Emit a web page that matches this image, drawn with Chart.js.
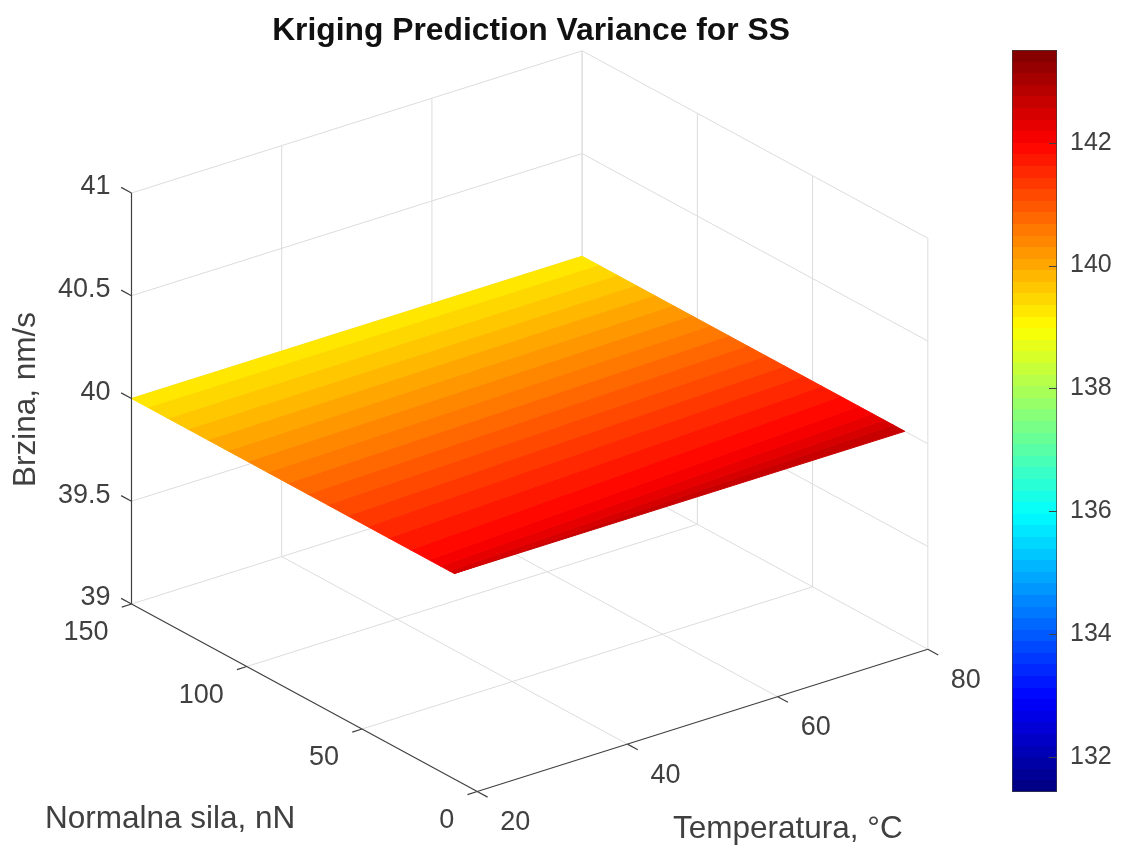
<!DOCTYPE html>
<html>
<head>
<meta charset="utf-8">
<title>Kriging Prediction Variance for SS</title>
<script src="https://cdn.jsdelivr.net/npm/chart.js@4"></script>
<style>
    html, body { margin: 0; padding: 0; background: #fff; }
    #plot { position: absolute; left: 0; top: 0; }
    #bar { position: absolute; left: 1000px; top: 0; }
</style>
</head>
<body>
<canvas id="plot" width="1062" height="846"></canvas>
<canvas id="bar" width="121" height="846"></canvas>
<script>
const tempTicks = [20, 40, 60, 80];
const forceTicks = [0, 50, 100, 150];
const speedTicks = [39, 39.5, 40, 40.5, 41];
const colorbarTicks = [132, 134, 136, 138, 140, 142];
const colorbarRange = [131.43, 143.51];

// Surface is flat at 40 nm/s and splits into colour bands; edges are read at both ends of the T range.
const surfaceSpeed = 40;
const surfaceTemp = [20, 80];
const bandEdgesAt20 = [150, 143, 134.3, 125.6, 117, 108.3, 99.6, 91, 82.3, 73.6, 65, 56.3, 47.6, 38.5, 29, 21, 16, 12, 10, 10];
const bandEdgesAt80 = [150, 143, 134.9, 126.8, 118.8, 110.7, 102.6, 94.5, 86.5, 78.4, 70.3, 62.2, 54.2, 46.1, 38, 30, 24, 19, 15, 10];
const bandVariance = [139.26, 139.45, 139.64, 139.83, 140.02, 140.2, 140.39, 140.58, 140.77, 140.96, 141.15, 141.34, 141.53, 141.71, 141.9, 142.09, 142.28, 142.47, 142.66];

const FONT = '"Liberation Sans", Arial, sans-serif';
const TEXT_COLOR = '#404040';
const GRID_COLOR = '#dcdcdc';
const AXIS_COLOR = '#404040';
const LEVELS = 64;

// Fixed orthographic view of the box, same as the camera of the original 3D axes.
function project(t, f, z) {
    return {
        x: 131.5 + (t - 20) * 7.51 + (150 - f) * 2.305,
        y: 604 - (t - 20) * 2.37 + (150 - f) * 1.25 - (z - 39) * 205.5
    };
}

function jet(t) {
    const c = v => Math.round(255 * Math.max(0, Math.min(1, v)));
    const r = c(Math.min(4 * t - 1.5, -4 * t + 4.5));
    const g = c(Math.min(4 * t - 0.5, -4 * t + 3.5));
    const b = c(Math.min(4 * t + 0.5, -4 * t + 2.5));
    return `rgb(${r},${g},${b})`;
}

function varianceColor(v) {
    const t = (v - colorbarRange[0]) / (colorbarRange[1] - colorbarRange[0]);
    const k = Math.min(LEVELS - 1, Math.floor(t * LEVELS));
    return jet((k + 0.5) / LEVELS);
}

function line(points, color, width, order) {
    return { data: points, showLine: true, pointRadius: 0, borderColor: color, borderWidth: width, order: order };
}

const datasets = [];
const tMin = tempTicks[0], tMax = tempTicks[3];
const fMin = forceTicks[0], fMax = forceTicks[3];
const zMin = speedTicks[0], zMax = speedTicks[4];

// Grid on the floor and the two back walls.
tempTicks.forEach(t => {
    if (t > tMin) datasets.push(line([project(t, fMin, zMin), project(t, fMax, zMin)], GRID_COLOR, 1, 3));
    datasets.push(line([project(t, fMax, zMin), project(t, fMax, zMax)], GRID_COLOR, 1, 3));
});
forceTicks.forEach(f => {
    if (f > fMin) datasets.push(line([project(tMin, f, zMin), project(tMax, f, zMin)], GRID_COLOR, 1, 3));
    datasets.push(line([project(tMax, f, zMin), project(tMax, f, zMax)], GRID_COLOR, 1, 3));
});
speedTicks.forEach(z => {
    if (z > zMin) {
        datasets.push(line([project(tMin, fMax, z), project(tMax, fMax, z)], GRID_COLOR, 1, 3));
        datasets.push(line([project(tMax, fMax, z), project(tMax, fMin, z)], GRID_COLOR, 1, 3));
    }
});

// Colour bands of the surface.
bandVariance.forEach((v, i) => {
    const color = varianceColor(v);
    const [t0, t1] = surfaceTemp;
    const pts = [
        project(t0, bandEdgesAt20[i], surfaceSpeed),
        project(t1, bandEdgesAt80[i], surfaceSpeed),
        project(t1, bandEdgesAt80[i + 1], surfaceSpeed),
        project(t0, bandEdgesAt20[i + 1], surfaceSpeed),
        project(t0, bandEdgesAt20[i], surfaceSpeed)
    ];
    datasets.push({
        data: pts, showLine: true, pointRadius: 0, fill: 'shape',
        backgroundColor: color, borderColor: color, borderWidth: 1, order: 2
    });
});

// Dark axes and their tick marks.
datasets.push(line([project(tMin, fMax, zMin), project(tMin, fMax, zMax)], AXIS_COLOR, 1.2, 1));
datasets.push(line([project(tMin, fMax, zMin), project(tMin, fMin, zMin)], AXIS_COLOR, 1.2, 1));
datasets.push(line([project(tMin, fMin, zMin), project(tMax, fMin, zMin)], AXIS_COLOR, 1.2, 1));
speedTicks.forEach(z => {
    datasets.push(line([project(tMin, fMax, z), project(tMin, fMax + 4.5, z)], AXIS_COLOR, 1.2, 1));
});
forceTicks.forEach(f => {
    datasets.push(line([project(tMin, f, zMin), project(tMin - 1.3, f, zMin)], AXIS_COLOR, 1.2, 1));
});
tempTicks.forEach(t => {
    datasets.push(line([project(t, fMin, zMin), project(t, fMin - 4.5, zMin)], AXIS_COLOR, 1.2, 1));
});

// Chart.js has no 3D axes so tick labels and axis titles are written here.
const axisText = {
    id: 'axisText',
    afterDraw(chart) {
        const { ctx, scales } = chart;
        const put = (text, p, dx, dy, align) => {
            ctx.textAlign = align;
            ctx.fillText(text, scales.x.getPixelForValue(p.x) + dx, scales.y.getPixelForValue(p.y) + dy);
        };
        ctx.save();
        ctx.fillStyle = TEXT_COLOR;
        ctx.font = '27px ' + FONT;
        ctx.textBaseline = 'middle';
        speedTicks.forEach(z => put(String(z), project(tMin, fMax, z), -21, -6, 'right'));
        forceTicks.forEach(f => put(String(f), project(tMin, f, zMin), -23, 29, 'right'));
        tempTicks.forEach(t => put(String(t), project(t, fMin, zMin), 38, 31, 'center'));
        ctx.font = '31.5px ' + FONT;
        ctx.textAlign = 'left';
        ctx.fillText('Normalna sila, nN', 45, 819);
        ctx.fillText('Temperatura, °C', 673, 829);
        ctx.translate(26, 399.5);
        ctx.rotate(-Math.PI / 2);
        ctx.textAlign = 'center';
        ctx.fillText('Brzina, nm/s', 0, 0);
        ctx.restore();
    }
};

new Chart(document.getElementById('plot').getContext('2d'), {
    type: 'scatter',
    data: { datasets: datasets },
    options: {
        responsive: false,
        animation: false,
        layout: { padding: 0 },
        plugins: {
            legend: { display: false },
            tooltip: { enabled: false },
            title: {
                display: true,
                text: 'Kriging Prediction Variance for SS',
                color: '#111111',
                font: { family: FONT, size: 31.8, weight: 'bold', lineHeight: 1 },
                padding: { top: 15, bottom: 3.2 }
            }
        },
        scales: {
            x: { type: 'linear', display: false, min: 0, max: 1062 },
            y: { type: 'linear', display: false, min: 50, max: 846, reverse: true }
        }
    },
    plugins: [axisText]
});

// Stepped jet gradient for the colorbar, built on the bar's own scale.
function colorbarFill(context) {
    const area = context.chart.chartArea;
    if (!area) return '#000';
    const g = context.chart.ctx.createLinearGradient(0, area.bottom, 0, area.top);
    for (let k = 0; k < LEVELS; k++) {
        const color = jet((k + 0.5) / LEVELS);
        g.addColorStop(k / LEVELS, color);
        g.addColorStop((k + 1) / LEVELS, color);
    }
    return g;
}

const insideTicks = {
    id: 'insideTicks',
    afterDatasetsDraw(chart) {
        const { ctx, chartArea, scales } = chart;
        ctx.save();
        ctx.strokeStyle = AXIS_COLOR;
        ctx.lineWidth = 1;
        scales.y.ticks.forEach(tick => {
            const y = Math.round(scales.y.getPixelForValue(tick.value)) + 0.5;
            ctx.beginPath();
            ctx.moveTo(chartArea.right - 8, y);
            ctx.lineTo(chartArea.right, y);
            ctx.stroke();
        });
        ctx.restore();
    }
};

new Chart(document.getElementById('bar').getContext('2d'), {
    type: 'bar',
    data: {
        labels: ['variance'],
        datasets: [{
            data: [colorbarRange],
            backgroundColor: colorbarFill,
            borderColor: '#3c3c3c',
            borderWidth: 1,
            borderSkipped: false,
            barPercentage: 1,
            categoryPercentage: 1
        }]
    },
    options: {
        responsive: false,
        animation: false,
        layout: { padding: { left: 12, top: 50, bottom: 54 } },
        plugins: { legend: { display: false }, tooltip: { enabled: false } },
        scales: {
            x: { display: false },
            y: {
                position: 'right',
                min: colorbarRange[0],
                max: colorbarRange[1],
                afterBuildTicks: scale => { scale.ticks = colorbarTicks.map(v => ({ value: v })); },
                afterFit: scale => { scale.width = 64; },
                grid: { display: false },
                border: { display: false },
                ticks: { color: TEXT_COLOR, font: { family: FONT, size: 25 }, padding: 5 }
            }
        }
    },
    plugins: [insideTicks]
});
</script>
</body>
</html>
